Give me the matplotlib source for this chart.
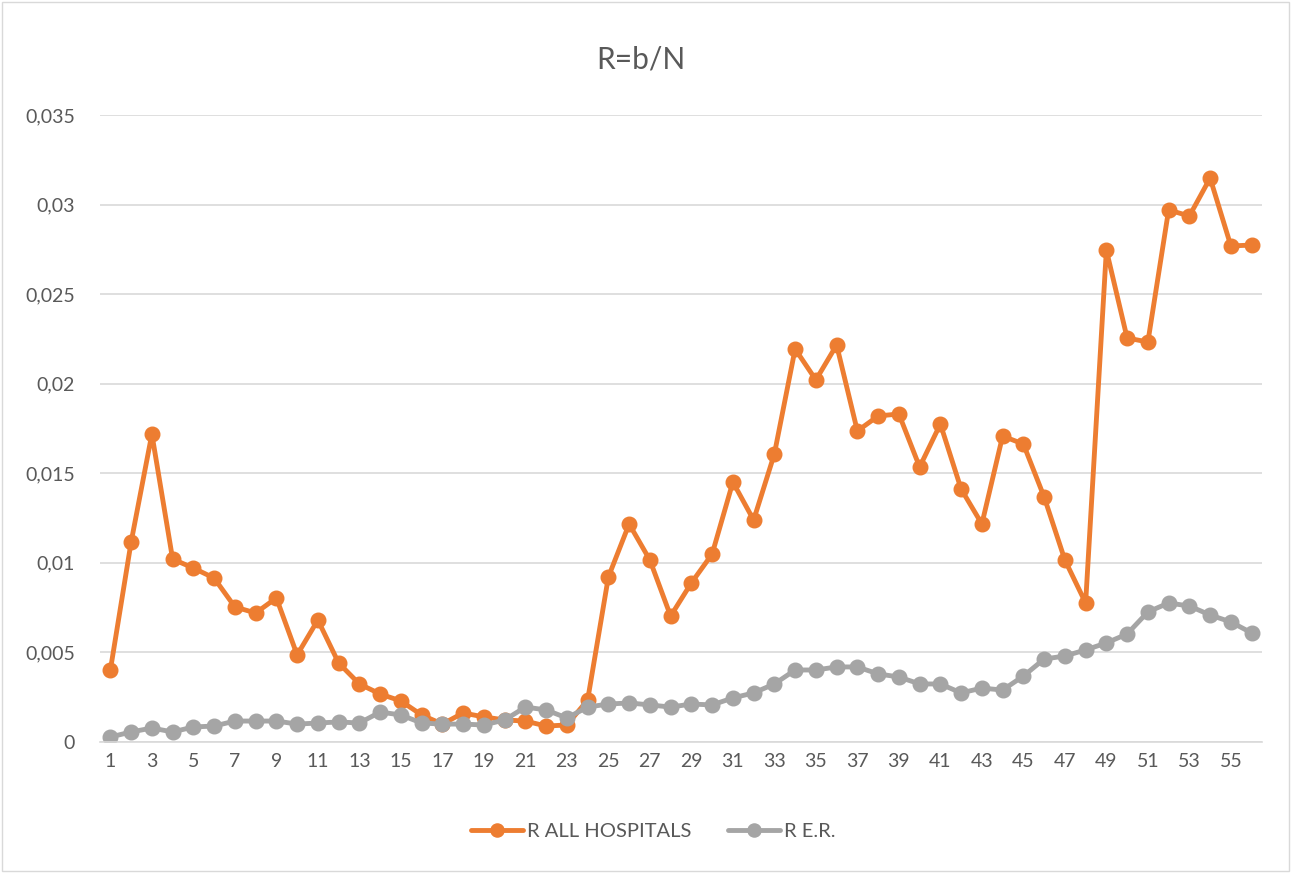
import matplotlib
matplotlib.use("Agg")
import matplotlib.pyplot as plt
from matplotlib.ticker import FuncFormatter, FixedLocator
from matplotlib.patches import Rectangle

plt.rcParams['font.family'] = ['Lato', 'DejaVu Sans']

weeks = list(range(1, 57))
r_all_hospitals = [0.00402, 0.01116, 0.01719, 0.01021, 0.00971, 0.00915, 0.00754, 0.0072,
                   0.00804, 0.00486, 0.00681, 0.00441, 0.00324, 0.00268, 0.00229, 0.00151,
                   0.0010, 0.00162, 0.0014, 0.00123, 0.00117, 0.00089, 0.00095, 0.00234,
                   0.00921, 0.01217, 0.01016, 0.00703, 0.00888, 0.01049, 0.01451, 0.01239,
                   0.01608, 0.02194, 0.02021, 0.02216, 0.01736, 0.0182, 0.01831, 0.01535,
                   0.01775, 0.01412, 0.01217, 0.01708, 0.01663, 0.01368, 0.01016, 0.00776,
                   0.02746, 0.02255, 0.02233, 0.0297, 0.02936, 0.03148, 0.02769, 0.02774]
r_er = [0.00028, 0.00056, 0.00078, 0.00056, 0.00084, 0.00089, 0.00117, 0.00117,
        0.00117, 0.0010, 0.00106, 0.00112, 0.00106, 0.00167, 0.00151, 0.00106,
        0.0010, 0.0010, 0.00095, 0.00123, 0.00195, 0.00179, 0.00134, 0.00195,
        0.00212, 0.00218, 0.00207, 0.00195, 0.00212, 0.00207, 0.00246, 0.00274,
        0.00324, 0.00402, 0.00402, 0.00419, 0.00419, 0.0038, 0.00363, 0.00324,
        0.00324, 0.00274, 0.00301, 0.0029, 0.00368, 0.00463, 0.0048, 0.00514,
        0.00553, 0.00603, 0.00726, 0.00776, 0.00759, 0.00709, 0.0067, 0.00609]
y_ticks = [0, 0.005, 0.01, 0.015, 0.02, 0.025, 0.03, 0.035]
x_tick_labels = [str(w) for w in range(1, 57, 2)]

ORANGE = '#ED7D31'
GRAY = '#A5A5A5'
TXT = '#595959'

fig = plt.figure(figsize=(12.91, 8.73), dpi=100)
ax = fig.add_axes([100/1291, (873-742)/873, (1262-100)/1291, (742-115)/873])

ax.plot(weeks, r_all_hospitals, color=ORANGE, lw=3.5, marker='o', ms=10.5,
        label='R ALL HOSPITALS', solid_capstyle='round', solid_joinstyle='round')
ax.plot(weeks, r_er, color=GRAY, lw=3.5, marker='o', ms=10.5,
        label='R E.R.', solid_capstyle='round', solid_joinstyle='round')

ax.set_xlim(0.5, 56.5)
ax.set_ylim(0, 0.035)
ax.yaxis.set_major_locator(FixedLocator(y_ticks))
ax.yaxis.set_major_formatter(FuncFormatter(lambda v, p: '0' if abs(v) < 1e-12 else ('%g' % v).replace('.', ',')))
ax.set_xticks(list(range(1, 57, 2)))
ax.set_xticklabels(x_tick_labels)
ax.tick_params(axis='both', length=0, labelsize=14, colors=TXT)
ax.tick_params(axis='y', pad=18)
ax.tick_params(axis='x', pad=8)
ax.grid(axis='y', color='#D9D9D9', lw=1.2)
ax.set_axisbelow(True)
for s in ['top', 'right', 'left']:
    ax.spines[s].set_visible(False)
ax.spines['bottom'].set_color('#D9D9D9')
ax.spines['bottom'].set_linewidth(1.2)

fig.text(641/1291, 1 - 60/873, 'R=b/N', ha='center', va='center', fontsize=21.5, color=TXT)

leg = fig.legend(loc='center', bbox_to_anchor=(653/1291, 1 - 831/873), ncol=2, frameon=False,
                 fontsize=14.5, labelcolor=TXT, handlelength=2.6, columnspacing=1.8,
                 handletextpad=0.2, markerscale=0.9)

fig.add_artist(Rectangle((2/1291, 2/873), 1 - 4/1291, 1 - 4/873, transform=fig.transFigure,
                         fill=False, edgecolor='#D9D9D9', lw=1))

fig.savefig('out.png', dpi=100)
